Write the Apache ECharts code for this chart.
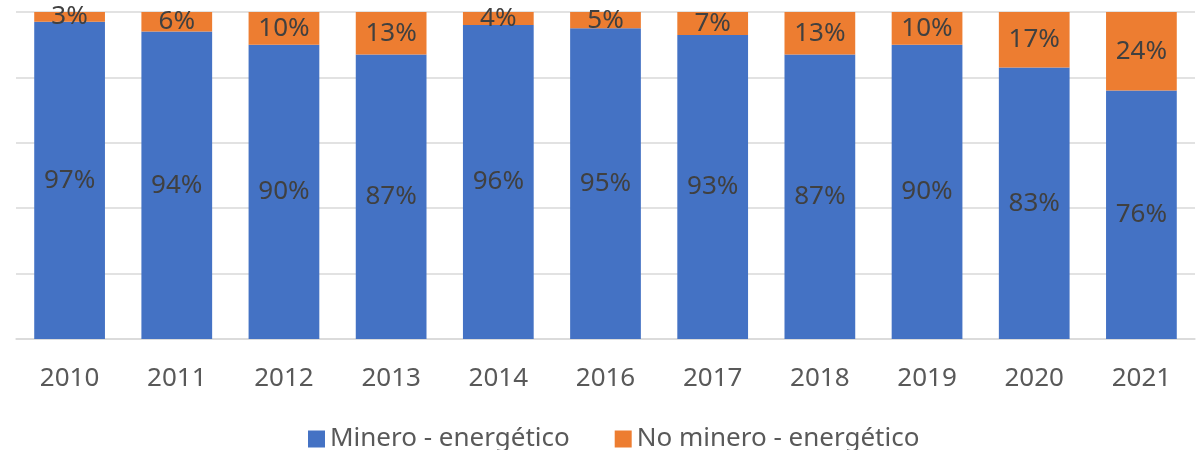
<!DOCTYPE html>
<html>
<head>
<meta charset="utf-8">
<script src="https://cdn.jsdelivr.net/npm/echarts@6/dist/echarts.min.js"></script>
<style>
html,body{margin:0;padding:0;background:#fff;}
#main{width:1197px;height:450px;}
</style>
</head>
<body>
<div id="main"></div>
<script>
var years = ['2010','2011','2012','2013','2014','2016','2017','2018','2019','2020','2021'];
var minero = [97, 94, 90, 87, 96, 95, 93, 87, 90, 83, 76];
var noMinero = [3, 6, 10, 13, 4, 5, 7, 13, 10, 17, 24];
var seriesNames = ['Minero - energético', 'No minero - energético'];

var myChart = echarts.init(document.getElementById('main'));
var labelStyle = {
    show: true,
    position: 'inside',
    formatter: '{c}%',
    color: '#404040',
    fontSize: 26,
    fontFamily: 'Noto Sans'
};
var option = {
    animation: false,
    textStyle: { fontFamily: 'Noto Sans' },
    grid: { left: 16, right: 2, top: 12, height: 327 },
    legend: {
        data: seriesNames,
        left: 303,
        top: 421,
        icon: 'rect',
        itemWidth: 17,
        itemHeight: 17,
        itemGap: 45,
        textStyle: { color: '#595959', fontSize: 26, fontFamily: 'Noto Sans' }
    },
    xAxis: {
        type: 'category',
        data: years,
        axisTick: { show: false },
        axisLine: { lineStyle: { color: '#d9d9d9', width: 1.5 } },
        axisLabel: { color: '#595959', fontSize: 26, margin: 27, fontFamily: 'Noto Sans' }
    },
    yAxis: {
        type: 'value',
        min: 0,
        max: 100,
        interval: 20,
        axisLabel: { show: false },
        axisLine: { show: false },
        axisTick: { show: false },
        splitLine: { lineStyle: { color: '#d9d9d9', width: 1.5 } }
    },
    series: [
        {
            name: seriesNames[0],
            type: 'bar',
            stack: 'total',
            barWidth: '66%',
            itemStyle: { color: '#4472c4' },
            label: labelStyle,
            data: minero
        },
        {
            name: seriesNames[1],
            type: 'bar',
            stack: 'total',
            barWidth: '66%',
            itemStyle: { color: '#ed7d31' },
            label: labelStyle,
            data: noMinero
        }
    ]
};
myChart.setOption(option);
</script>
</body>
</html>
